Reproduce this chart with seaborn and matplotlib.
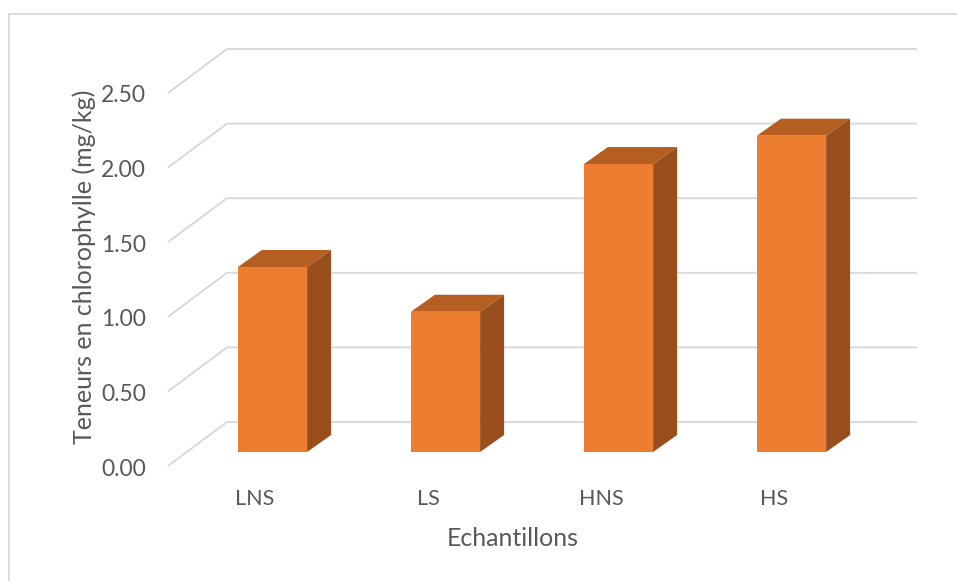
import numpy as np
import pandas as pd
import matplotlib
matplotlib.use("Agg")
import matplotlib.pyplot as plt
from matplotlib.patches import Polygon
from matplotlib.lines import Line2D
import seaborn as sns

# ---- data ----
categories = ["LNS", "LS", "HNS", "HS"]
values = [1.24, 0.94, 1.93, 2.12]
y_ticks = [0.0, 0.5, 1.0, 1.5, 2.0, 2.5]
y_tick_labels = ["0.00", "0.50", "1.00", "1.50", "2.00", "2.50"]
x_title = "Echantillons"
y_title = "Teneurs en chlorophylle (mg/kg)"

# ---- style ----
sns.set_theme(style="white")
plt.rcParams["font.family"] = ["Lato", "DejaVu Sans"]
TEXT = "#595959"
GRID = "#D9D9D9"
FRONT = "#ED7D31"
TOP = "#B55E22"
SIDE = "#984E1D"

W, H, DPI = 957, 581, 100
fig = plt.figure(figsize=(W / DPI, H / DPI), dpi=DPI)

# axes placement in pixels (from top-left), and px-per-unit scales
AX_L, AX_R, AX_T, AX_B = 100, 940, 20, 520
PX_X, PX_Y = 173.0, 149.2      # pixels per category / per value unit
X0_PX, Y0_PX = 272.5, 452.0    # pixel of category 0 centre / value 0 (bar plane)
ax = fig.add_axes([AX_L / W, 1 - AX_B / H, (AX_R - AX_L) / W, (AX_B - AX_T) / H])

# depth geometry (data units)
BAR_DX, BAR_DY = 24 / PX_X, 17 / PX_Y
FRONT_X = (168 - X0_PX) / PX_X     # front-left of floor/grid
FRONT_DY = -14 / PX_Y
BACK_X0 = (227 - X0_PX) / PX_X
BACK_X1 = (917 - X0_PX) / PX_X
BACK_DY = 30 / PX_Y

# gridlines (perspective)
for t in y_ticks:
    ax.add_line(Line2D([FRONT_X, BACK_X0, BACK_X1], [t + FRONT_DY, t + BACK_DY, t + BACK_DY],
                       color=GRID, lw=1.4, zorder=1, solid_capstyle="butt"))

# front faces via seaborn
df = pd.DataFrame({"cat": categories, "val": values})
sns.barplot(data=df, x="cat", y="val", color=FRONT, saturation=1, width=0.4,
            linewidth=0, ax=ax, zorder=3)
ax.set_xlim((AX_L - X0_PX) / PX_X, (AX_R - X0_PX) / PX_X)
ax.set_ylim((Y0_PX - AX_B) / PX_Y, (Y0_PX - AX_T) / PX_Y)
ax.axis("off")

for p in list(ax.patches):
    x, y, w, h = p.get_x(), p.get_y(), p.get_width(), p.get_height()
    top = Polygon([(x, y + h), (x + w, y + h), (x + w + BAR_DX, y + h + BAR_DY), (x + BAR_DX, y + h + BAR_DY)],
                  closed=True, facecolor=TOP, edgecolor="none", zorder=3)
    side = Polygon([(x + w, y), (x + w + BAR_DX, y + BAR_DY), (x + w + BAR_DX, y + h + BAR_DY), (x + w, y + h)],
                   closed=True, facecolor=SIDE, edgecolor="none", zorder=3)
    ax.add_patch(top)
    ax.add_patch(side)

# tick labels
LBL_X = (146 - X0_PX) / PX_X
LBL_DY = -3 / PX_Y
for t, lab in zip(y_ticks, y_tick_labels):
    ax.text(LBL_X, t + FRONT_DY + LBL_DY, lab, ha="right", va="center", fontsize=16.5, color=TEXT, clip_on=False)

CAT_DX = -17.5 / PX_X
CAT_Y = (Y0_PX - 499) / PX_Y
for i, c in enumerate(categories):
    ax.text(i + CAT_DX, CAT_Y, c, ha="center", va="center", fontsize=15.5, color=TEXT, clip_on=False)

fig.text(513 / W, 1 - 538 / H, x_title, ha="center", va="center", fontsize=18, color=TEXT)
fig.text(84 / W, 1 - 267 / H, y_title, ha="center", va="center", rotation=90, fontsize=18, color=TEXT)

# chart-area border (top and left visible)
fig.add_artist(Line2D([9 / W, 1], [1 - 13.5 / H, 1 - 13.5 / H], transform=fig.transFigure, color=GRID, lw=1.3))
fig.add_artist(Line2D([9 / W, 9 / W], [0, 1 - 13.5 / H], transform=fig.transFigure, color=GRID, lw=1.3))

fig.savefig("out.png", dpi=DPI, facecolor="white")
